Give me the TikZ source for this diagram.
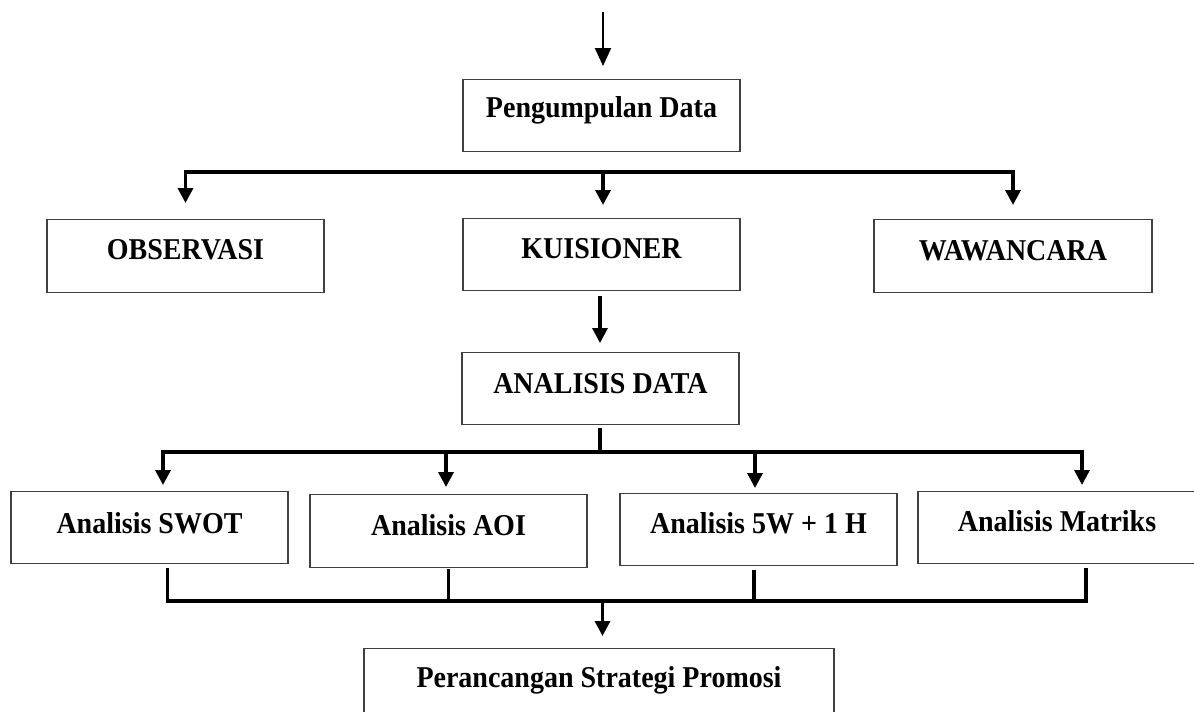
\documentclass[tikz,border=0pt]{standalone}
\usepackage{fontspec}
\usepackage{graphicx}
\setmainfont{Liberation Serif}
\usetikzlibrary{arrows.meta}
\newcommand{\stretchtxt}[1]{\scalebox{1}[1.08]{#1}}
\begin{document}
\begin{tikzpicture}[x=1pt,y=-1pt,
  box/.style={draw=black!75, line width=1.3pt, inner xsep=0pt, inner ysep=0pt,
    anchor=north, font=\fontsize{28}{33}\selectfont\bfseries},
  conn/.style={line width=3.4pt},
  barline/.style={line width=3.4pt, line cap=rect},
  arr/.style={-{Triangle[length=15pt,width=15pt]}},
  toparr/.style={line width=2.2pt, -{Triangle[length=18pt,width=16pt]}}
]
\useasboundingbox (0,0) rectangle (1194,712);

% boxes
\node[box, minimum width=277pt, text height=38pt, text depth=34pt] (pd)  at (601.5,79)  {\stretchtxt{Pengumpulan Data}};
\node[box, minimum width=277pt, text height=39.5pt, text depth=33.5pt] (obs) at (185.5,219) {\stretchtxt{OBSERVASI}};
\node[box, minimum width=277pt, text height=40pt, text depth=32pt] (kui) at (601.5,218) {\stretchtxt{KUISIONER}};
\node[box, minimum width=278pt, text height=40.5pt, text depth=32.5pt] (waw) at (1013,219)  {\stretchtxt{WAWANCARA}};
\node[box, minimum width=277pt, text height=41pt, text depth=31pt] (ad)  at (600.5,352) {\stretchtxt{ANALISIS DATA}};
\node[box, minimum width=277pt, text height=42pt, text depth=30pt] (swot) at (149.5,491) {\stretchtxt{Analisis SWOT}};
\node[box, minimum width=277pt, text height=41pt, text depth=32pt] (aoi)  at (448.5,494) {\stretchtxt{Analisis AOI}};
\node[box, minimum width=277pt, text height=40pt, text depth=32pt] (fw)   at (758.5,493) {\stretchtxt{Analisis 5W + 1 H}};
\node[box, minimum width=278pt, text height=40pt, text depth=32pt] (mat)  at (1057,491)  {\stretchtxt{Analisis Matriks}};
\node[box, minimum width=470pt, text height=39pt, text depth=80pt] (prs)  at (599,648)   {\stretchtxt{Perancangan Strategi Promosi}};

% coordinates for connector free ends
\coordinate (start) at (603,12);
\coordinate (b1) at (0,172);
\coordinate (kx) at (600,0);
\coordinate (b2) at (0,452);
\coordinate (a1) at (163,452);
\coordinate (a2) at (446,452);
\coordinate (a3) at (755,452);
\coordinate (a4) at (1082,452);
\coordinate (c1) at (167.6,601);
\coordinate (c2) at (448.6,601);
\coordinate (c3) at (754,601);
\coordinate (c4) at (1086,601);
\coordinate (c0) at (602.5,601);

% top arrow
\draw[toparr, shorten >=13pt] (start) -- (start |- pd.north);

% first distribution bar
\draw[barline] (obs.north |- b1) -- (waw.north |- b1);
\draw[conn, arr, shorten >=16pt] (obs.north |- b1) -- (obs.north);
\draw[conn, arr, shorten >=13pt] (start |- b1) -- (start |- kui.north);
\draw[conn, arr, shorten >=14pt] (waw.north |- b1) -- (waw.north);

% kuisioner -> analisis data
\draw[line width=3.2pt, arr, shorten <=5pt, shorten >=9pt] (kui.south -| kx) -- (ad.north -| kx);

% analisis data -> second bar
\draw[conn, shorten <=3pt] (ad.south -| kx) -- (kx |- b2);
\draw[barline] (a1) -- (a4);
\draw[conn, arr, shorten >=6pt] (a1) -- (a1 |- swot.north);
\draw[conn, arr, shorten >=7pt] (a2) -- (a2 |- aoi.north);
\draw[conn, arr, shorten >=5pt] (a3) -- (a3 |- fw.north);
\draw[conn, arr, shorten >=6pt] (a4) -- (a4 |- mat.north);

% collecting bar
\draw[conn, shorten <=4pt] (swot.south -| c1) -- (c1);
\draw[conn, shorten <=1pt] (aoi.south -| c2) -- (c2);
\draw[conn, shorten <=4pt] (fw.south -| c3) -- (c3);
\draw[conn, shorten <=4pt] (mat.south -| c4) -- (c4);
\draw[barline] (c1) -- (c4);
\draw[conn, arr, shorten >=12pt] (c0) -- (c0 |- prs.north);
\end{tikzpicture}
\end{document}
